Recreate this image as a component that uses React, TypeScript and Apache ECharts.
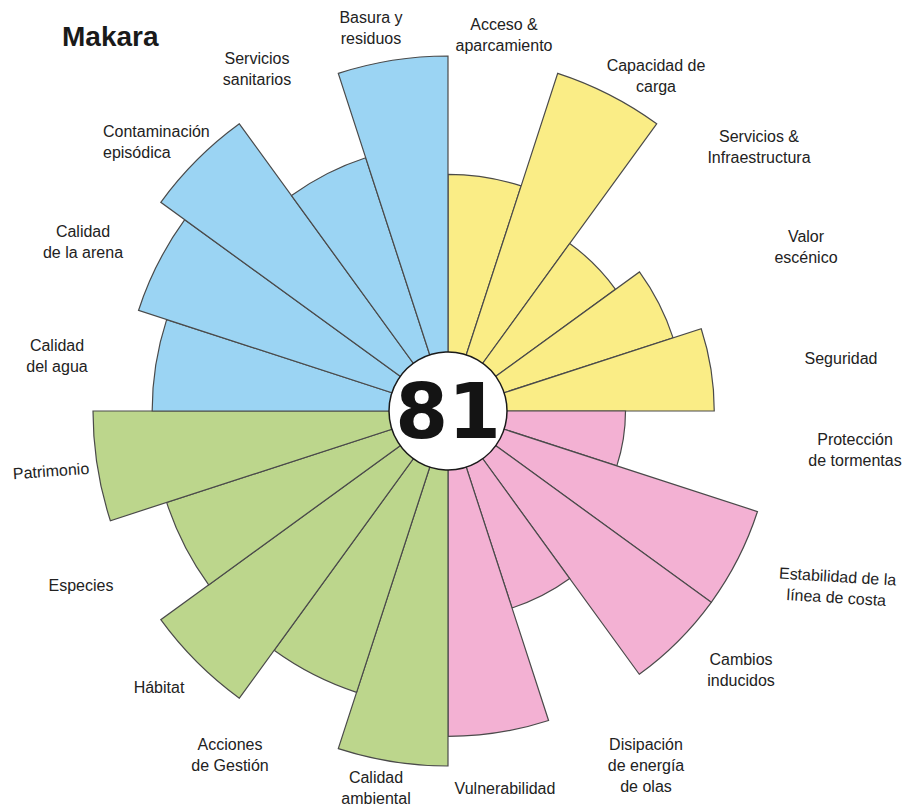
import React, { useEffect, useRef } from 'react';
import * as echarts from 'echarts';

const categories = [
  'Acceso &\naparcamiento',
  'Capacidad de\ncarga',
  'Servicios &\nInfraestructura',
  'Valor\nescénico',
  'Seguridad',
  'Protección\nde tormentas',
  'Estabilidad de la\nlínea de costa',
  'Cambios\ninducidos',
  'Disipación\nde energía\nde olas',
  'Vulnerabilidad',
  'Calidad\nambiental',
  'Acciones\nde Gestión',
  'Hábitat',
  'Especies',
  'Patrimonio',
  'Calidad\ndel agua',
  'Calidad\nde la arena',
  'Contaminación\nepisódica',
  'Servicios\nsanitarios',
  'Basura y\nresiduos',
];
const scores = [8, 12, 7, 8, 9, 6, 11, 11, 7, 11, 12, 10, 12, 10, 12, 10, 11, 12, 9, 12];
const dimensionOf = [0, 0, 0, 0, 0, 1, 1, 1, 1, 1, 2, 2, 2, 2, 2, 3, 3, 3, 3, 3];
const overallScore = '81';
const beachName = 'Makara';

const palette = ['#FAED86', '#F3B1D3', '#BCD68C', '#9BD4F3'];

// label layout: [x, y, align, rotation]
const labelLayout: [number, number, string, number][] = [
  [504, 35, 'center', 0],
  [656, 76, 'center', 0],
  [759, 147, 'center', 0],
  [806, 247, 'center', 0],
  [841, 358, 'center', 0],
  [855, 450, 'center', 0],
  [837, 587, 'center', -0.06],
  [741, 670, 'center', 0],
  [646, 765, 'center', 0],
  [505, 788, 'center', 0],
  [376, 788, 'center', 0],
  [230, 755, 'center', 0],
  [159, 687, 'center', 0],
  [81, 585, 'center', 0],
  [51, 471, 'center', 0.07],
  [57, 356, 'center', 0],
  [83, 242, 'center', 0],
  [103, 142, 'left', 0],
  [257, 69, 'center', 0],
  [371, 28, 'center', 0],
];

export default function App() {
  const ref = useRef<HTMLDivElement>(null);
  useEffect(() => {
    const chart = echarts.init(ref.current!, null, { renderer: 'svg' });
    const labelTexts = categories.map((c, i) => {
      const [x, y, align, rot] = labelLayout[i];
      return {
        type: 'text',
        x,
        y,
        rotation: rot,
        silent: true,
        style: {
          text: c,
          x: 0,
          y: 0,
          fill: '#222',
          font: '16px "Liberation Sans", Arial, sans-serif',
          fontSize: 16,
          fontFamily: '"Liberation Sans", Arial, sans-serif',
          lineHeight: 21,
          align,
          verticalAlign: 'middle',
        },
      };
    });
    chart.setOption({
      animation: false,
      backgroundColor: '#ffffff',
      polar: { center: [448, 411], radius: [0, 355] },
      angleAxis: {
        type: 'category',
        data: categories,
        startAngle: 90,
        clockwise: true,
        axisLine: { show: false },
        axisTick: { show: false },
        axisLabel: { show: false },
        splitLine: { show: false },
      },
      radiusAxis: {
        type: 'value',
        min: 0,
        max: 12,
        axisLine: { show: false },
        axisTick: { show: false },
        axisLabel: { show: false },
        splitLine: { show: false },
      },
      series: [
        {
          type: 'bar',
          coordinateSystem: 'polar',
          barCategoryGap: '0%',
          silent: true,
          data: scores.map((v, i) => ({
            value: v,
            itemStyle: { color: palette[dimensionOf[i]] },
          })),
          itemStyle: { borderColor: '#4a4a4a', borderWidth: 1.2 },
        },
      ],
      graphic: [
        ...labelTexts,
        {
          type: 'circle',
          silent: true,
          shape: { cx: 448, cy: 411, r: 59 },
          style: { fill: '#ffffff', stroke: '#1a1a1a', lineWidth: 1.5 },
          z: 100,
        },
        {
          type: 'text',
          silent: true,
          x: 448,
          y: 411,
          z: 101,
          style: {
            text: overallScore,
            fill: '#141414',
            fontSize: 76,
            fontWeight: 'bold',
            fontFamily: '"DejaVu Sans", Verdana, sans-serif',
            align: 'center',
            verticalAlign: 'middle',
          },
        },
        {
          type: 'text',
          silent: true,
          x: 62,
          y: 36,
          style: {
            text: beachName,
            fill: '#1a1a1a',
            fontSize: 28,
            fontWeight: 'bold',
            fontFamily: '"Liberation Sans", Arial, sans-serif',
            align: 'left',
            verticalAlign: 'middle',
          },
        },
      ],
    });
    return () => chart.dispose();
  }, []);
  return (
    <div
      ref={ref}
      style={{ position: 'fixed', left: 0, top: 0, width: 919, height: 806 }}
    />
  );
}
